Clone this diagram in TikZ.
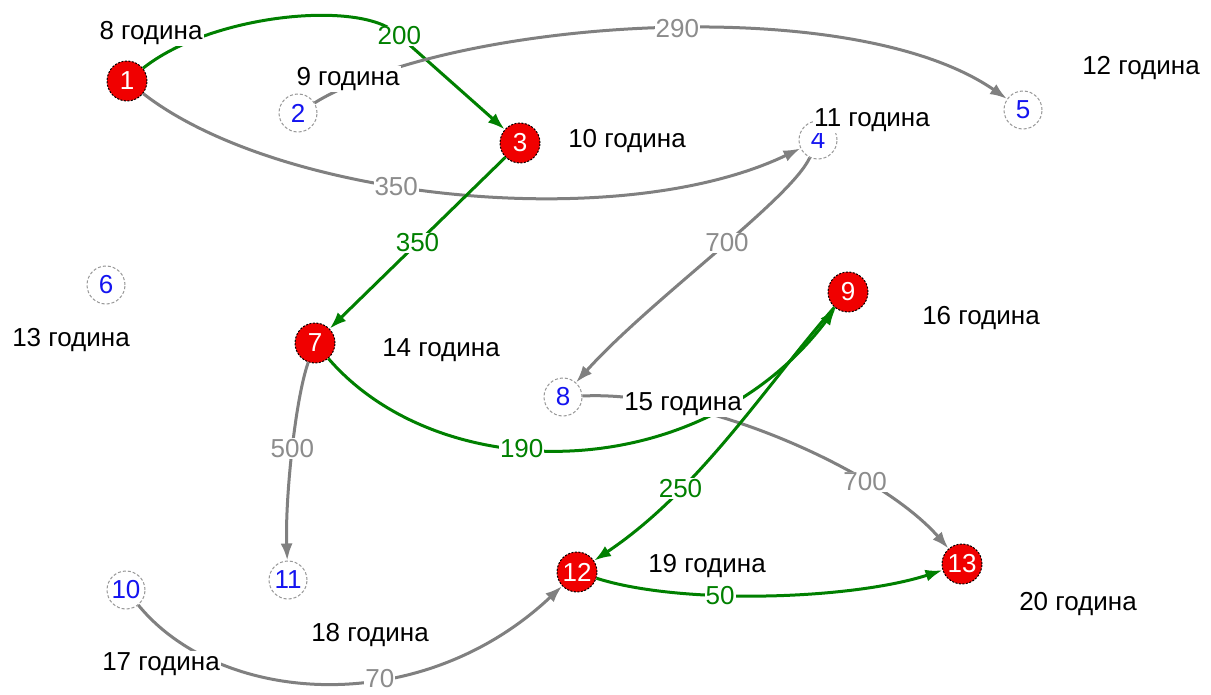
\documentclass[tikz,border=0pt]{standalone}
\usepackage{fontspec}
\setmainfont{Liberation Sans}
\usetikzlibrary{arrows.meta}
\definecolor{edgegreen}{RGB}{0,128,0}
\definecolor{edgegray}{RGB}{128,128,128}
\definecolor{lblgray}{RGB}{140,140,140}
\definecolor{nodeblue}{RGB}{20,20,240}
\definecolor{nodered}{RGB}{240,0,0}
\definecolor{rimgray}{RGB}{150,150,150}
\begin{document}
\begin{tikzpicture}[x=1pt,y=-1pt,
 every node/.style={font=\fontsize{26}{31}\selectfont},
 rednode/.style={circle,fill=nodered,draw=black,dash pattern=on 2pt off 1.5pt,line width=1pt,minimum size=40pt,inner sep=0pt,text=white},
 whitenode/.style={circle,fill=white,draw=rimgray,dash pattern=on 3pt off 2pt,line width=1pt,minimum size=38pt,inner sep=0pt,text=nodeblue},
 hourlbl/.style={fill=white,inner sep=1pt,text=black},
 greenedge/.style={draw=edgegreen,line width=3pt,-{Latex[length=17pt,width=12pt]}},
 grayedge/.style={draw=edgegray,line width=3pt,-{Latex[length=17pt,width=12pt]}},
 greenlbl/.style={fill=white,inner sep=1pt,text=edgegreen},
 graylbl/.style={fill=white,inner sep=1pt,text=lblgray}]
\fill[white] (0,0) rectangle (1211,695);
\useasboundingbox (0,0) rectangle (1211,695);
% nodes
\node[rednode] (n1) at (127,81) {1};
\node[whitenode] (n2) at (298,113) {2};
\node[rednode] (n3) at (520,143) {3};
\node[whitenode] (n4) at (818,140) {4};
\node[whitenode] (n5) at (1023,110) {5};
\node[whitenode] (n6) at (106,285) {6};
\node[rednode] (n7) at (315,343) {7};
\node[whitenode] (n8) at (563,397) {8};
\node[rednode] (n9) at (848,292) {9};
\node[whitenode] (n10) at (126,590) {10};
\node[whitenode] (n11) at (288,580) {11};
\node[rednode] (n12) at (577,572) {12};
\node[rednode] (n13) at (962,564) {13};
% edges
\draw[greenedge] (n1) .. controls (210,15) and (355,0) .. (395,32) -- node[greenlbl,pos=0.04]{200} (n3);
\draw[grayedge] (n2) .. controls (450,20) and (850,-10) .. node[graylbl,pos=0.53]{290} (n5);
\draw[grayedge] (n1) .. controls (280,200) and (620,235) .. node[graylbl,pos=0.42]{350} (n4);
\draw[greenedge] (n3) -- node[greenlbl]{350} (n7);
\draw[grayedge] (n4) .. controls (790,200) and (650,300) .. node[graylbl,pos=0.45]{700} (n8);
\draw[grayedge] (n7) .. controls (295,400) and (285,500) .. node[graylbl,pos=0.48]{500} (n11);
\draw[greenedge] (n7) .. controls (440,488) and (700,488) .. node[greenlbl,pos=0.41]{190} (n9);
\draw[grayedge] (n8) .. controls (700,390) and (880,470) .. node[graylbl,pos=0.71]{700} (n13);
\draw[greenedge] (n9) .. controls (770,380) and (700,490) .. node[greenlbl,pos=0.7]{250} (n12);
\draw[grayedge] (n10) .. controls (220,705) and (420,720) .. node[graylbl,pos=0.61]{70} (n12);
\draw[greenedge] (n12) .. controls (680,605) and (850,600) .. node[greenlbl,pos=0.38]{50} (n13);
% hour labels
\node[hourlbl] (h8) at (151,33) {8 година};
\node[hourlbl] (h9) at (348,79) {9 година};
\node[hourlbl] (h10) at (627,141) {10 година};
\node[hourlbl] (h11) at (872,120) {11 година};
\node[hourlbl] (h12) at (1141,68) {12 година};
\node[hourlbl] (h13) at (71,340) {13 година};
\node[hourlbl] (h14) at (441,350) {14 година};
\node[hourlbl] (h15) at (683,404) {15 година};
\node[hourlbl] (h16) at (981,318) {16 година};
\node[hourlbl] (h17) at (161,664) {17 година};
\node[hourlbl] (h18) at (370,635) {18 година};
\node[hourlbl] (h19) at (707,566) {19 година};
\node[hourlbl] (h20) at (1078,604) {20 година};
\end{tikzpicture}
\end{document}
